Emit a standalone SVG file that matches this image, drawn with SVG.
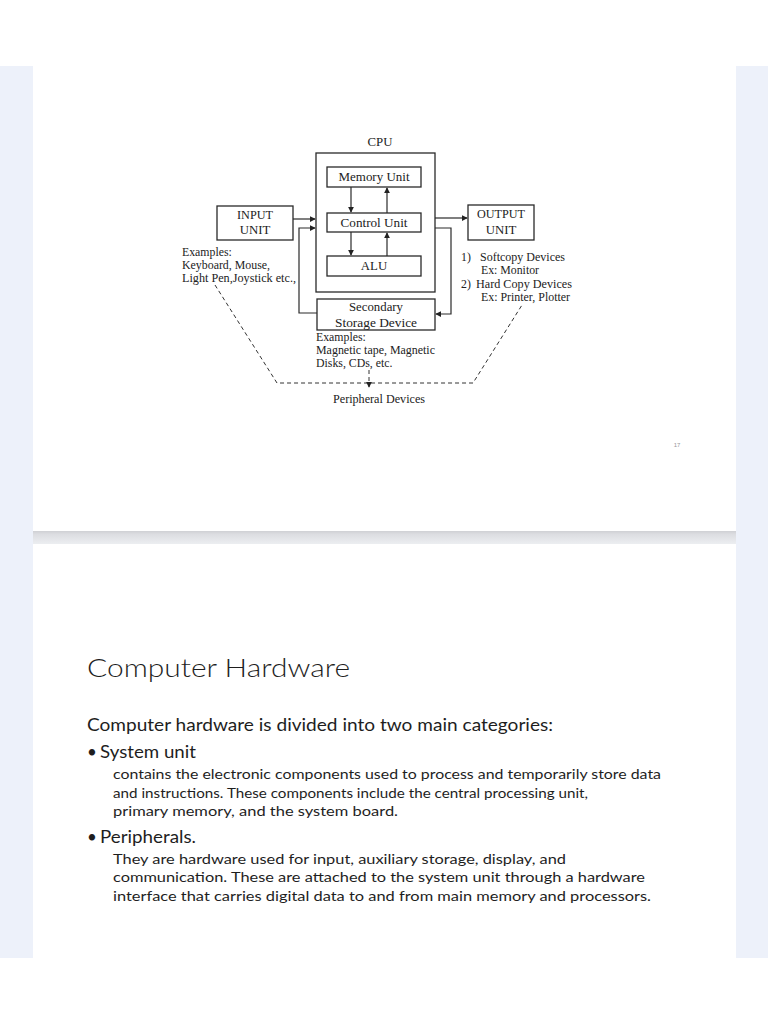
<svg xmlns="http://www.w3.org/2000/svg" width="768" height="1024" viewBox="0 0 768 1024">
<defs>
<style>
.box{fill:none;stroke:#2a2a2a;stroke-width:1.3}
.ln{fill:none;stroke:#2a2a2a;stroke-width:1.2}
.dash{fill:none;stroke:#333;stroke-width:1;stroke-dasharray:4,3}
.t{font-family:"Liberation Serif","Times New Roman",serif;font-size:11.8px;fill:#222}
.tc{font-family:"Liberation Serif","Times New Roman",serif;font-size:11.8px;fill:#222;text-anchor:middle}
.b{font-size:12.8px}
.h{font-family:Lato,"Noto Sans",sans-serif;fill:#1e1e1e}
</style>
<marker id="ar" viewBox="0 0 8 8" refX="7" refY="4" markerWidth="6" markerHeight="6" orient="auto" markerUnits="userSpaceOnUse">
<path d="M0,0 L8,4 L0,8 z" fill="#222"/>
</marker>
<linearGradient id="sep" x1="0" y1="0" x2="0" y2="1">
<stop offset="0" stop-color="#cfd0d4"/>
<stop offset="0.25" stop-color="#dcdde1"/>
<stop offset="1" stop-color="#eceef1"/>
</linearGradient>
</defs>
<rect width="768" height="1024" fill="#ffffff"/>
<rect x="0" y="66" width="33" height="892" fill="#edf1fa"/>
<rect x="736" y="66" width="32" height="892" fill="#edf1fa"/>
<rect x="33" y="531" width="703" height="13" fill="url(#sep)"/>

<g id="cpu-label"><text class="tc b" x="380" y="146">CPU</text></g>
<g id="cpu"><rect class="box" x="316" y="153" width="119" height="139"/></g>
<g id="memory-unit"><rect class="box" x="327" y="167" width="94" height="20"/><text class="tc b" x="374" y="181" textLength="71" lengthAdjust="spacingAndGlyphs">Memory Unit</text></g>
<g id="control-unit"><rect class="box" x="327" y="213" width="94" height="19"/><text class="tc b" x="374" y="227" textLength="67" lengthAdjust="spacingAndGlyphs">Control Unit</text></g>
<g id="alu"><rect class="box" x="327" y="256" width="94" height="20"/><text class="tc b" x="374" y="270">ALU</text></g>
<g id="input-unit"><rect class="box" x="217" y="206" width="76" height="34"/><text class="tc b" x="255" y="219" textLength="36" lengthAdjust="spacingAndGlyphs">INPUT</text><text class="tc b" x="255" y="234">UNIT</text>
<text class="t" x="182" y="256">Examples:</text><text class="t" x="182" y="269" textLength="88" lengthAdjust="spacingAndGlyphs">Keyboard, Mouse,</text><text class="t" x="182" y="282" textLength="114" lengthAdjust="spacingAndGlyphs">Light Pen,Joystick  etc.,</text></g>
<g id="output-unit"><rect class="box" x="468" y="205" width="66" height="35"/><text class="tc b" x="501" y="218" textLength="48" lengthAdjust="spacingAndGlyphs">OUTPUT</text><text class="tc b" x="501" y="234">UNIT</text>
<text class="t" x="461" y="261">1)</text><text class="t" x="480" y="261" textLength="85" lengthAdjust="spacingAndGlyphs">Softcopy Devices</text><text class="t" x="481" y="274">Ex: Monitor</text><text class="t" x="461" y="288">2)</text><text class="t" x="476" y="288" textLength="96" lengthAdjust="spacingAndGlyphs">Hard Copy Devices</text><text class="t" x="481" y="301" textLength="89" lengthAdjust="spacingAndGlyphs">Ex: Printer, Plotter</text></g>
<g id="secondary-storage"><rect class="box" x="317" y="299" width="118" height="31"/><text class="tc b" x="376" y="311">Secondary</text><text class="tc b" x="376" y="327" textLength="82" lengthAdjust="spacingAndGlyphs">Storage Device</text>
<text class="t" x="316" y="341">Examples:</text><text class="t" x="316" y="354" textLength="119" lengthAdjust="spacingAndGlyphs">Magnetic tape, Magnetic</text><text class="t" x="316" y="367">Disks, CDs, etc.</text></g>
<g id="peripheral-devices"><text class="tc" x="379" y="403" textLength="92" lengthAdjust="spacingAndGlyphs">Peripheral Devices</text></g>
<g id="page-number"><text x="677" y="447" font-family="Liberation Sans,sans-serif" font-size="6" fill="#999" text-anchor="middle">17</text></g>

<g id="connectors">
<line class="ln" x1="351" y1="187" x2="351" y2="212" marker-end="url(#ar)"/>
<line class="ln" x1="387" y1="213" x2="387" y2="188" marker-end="url(#ar)"/>
<line class="ln" x1="351" y1="232" x2="351" y2="255" marker-end="url(#ar)"/>
<line class="ln" x1="387" y1="256" x2="387" y2="233" marker-end="url(#ar)"/>
<line class="ln" x1="293" y1="219" x2="315" y2="219" marker-end="url(#ar)"/>
<polyline class="ln" points="317,313 299,313 299,228 315,228" marker-end="url(#ar)"/>
<line class="ln" x1="435" y1="218" x2="467" y2="218" marker-end="url(#ar)"/>
<polyline class="ln" points="435,228 451,228 451,314 436,314" marker-end="url(#ar)"/>
<polyline class="dash" points="215,285 277,383 473,383 522,305"/>
<line class="dash" x1="369" y1="370" x2="369" y2="387" marker-end="url(#ar)"/>
</g>

<text class="h" x="87" y="677" font-size="26" font-weight="300" textLength="263" lengthAdjust="spacingAndGlyphs">Computer Hardware</text>
<text class="h" x="87" y="731" font-size="17" textLength="466" lengthAdjust="spacingAndGlyphs">Computer hardware is divided into two main categories:</text>
<text class="h" x="87" y="758" font-size="17">•</text>
<text class="h" x="100" y="758" font-size="17" textLength="96" lengthAdjust="spacingAndGlyphs">System unit</text>
<text class="h" x="113" y="779" font-size="14" textLength="548" lengthAdjust="spacingAndGlyphs">contains the electronic components used to process and temporarily store data</text>
<text class="h" x="113" y="798" font-size="14" textLength="475" lengthAdjust="spacingAndGlyphs">and instructions. These components include the central processing unit,</text>
<text class="h" x="113" y="816" font-size="14" textLength="285" lengthAdjust="spacingAndGlyphs">primary memory, and the system board.</text>
<text class="h" x="87" y="843" font-size="17">•</text>
<text class="h" x="100" y="843" font-size="17" textLength="96" lengthAdjust="spacingAndGlyphs">Peripherals.</text>
<text class="h" x="113" y="864" font-size="14" textLength="453" lengthAdjust="spacingAndGlyphs">They are hardware used for input, auxiliary storage, display, and</text>
<text class="h" x="113" y="882" font-size="14" textLength="532" lengthAdjust="spacingAndGlyphs">communication. These are attached to the system unit through a hardware</text>
<text class="h" x="113" y="901" font-size="14" textLength="538" lengthAdjust="spacingAndGlyphs">interface that carries digital data to and from main memory and processors.</text>
</svg>
